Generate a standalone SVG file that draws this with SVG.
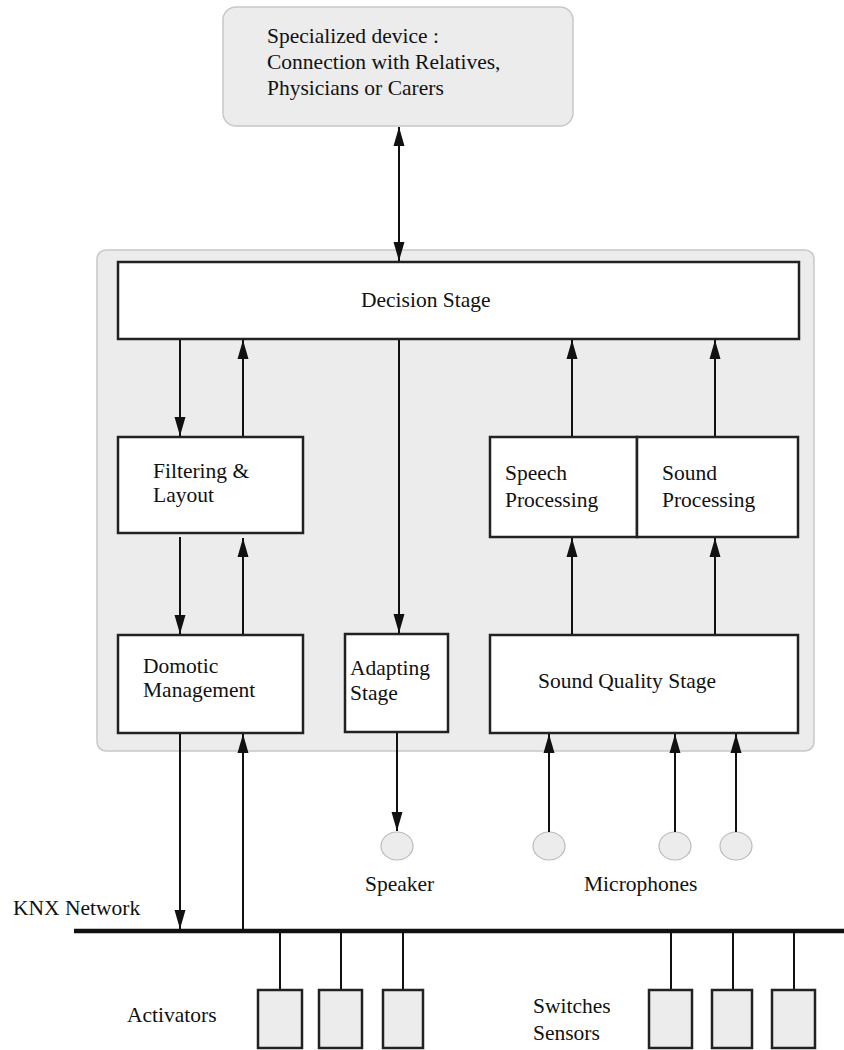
<svg xmlns="http://www.w3.org/2000/svg" width="844" height="1050" viewBox="0 0 844 1050">
<defs>
<marker id="ah" markerUnits="userSpaceOnUse" markerWidth="20" markerHeight="12" viewBox="0 0 20 12" refX="19" refY="6" orient="auto-start-reverse">
<path d="M0,0.5 L19,6 L0,11.5 Z" fill="#111"/>
</marker>
<style>
text{font-family:'Liberation Serif','Times New Roman','DejaVu Serif',serif;font-size:21.5px;fill:#111}
.box{fill:#fff;stroke:#222;stroke-width:2.5}
.dev{fill:#ececec;stroke:#222;stroke-width:2.5}
.grey{fill:#ececec;stroke:#c8c8c8;stroke-width:1.5}
.circ{fill:#ececec;stroke:#bbb;stroke-width:1.2}
.c{stroke:#111;stroke-width:2;fill:none}
.a{stroke:#111;stroke-width:2;fill:none;marker-end:url(#ah)}
.d{stroke:#111;stroke-width:2;fill:none;marker-start:url(#ah);marker-end:url(#ah)}
</style>
</defs>
<rect width="844" height="1050" fill="#fff"/>

<g font-family="Liberation Serif, Times New Roman, DejaVu Serif, serif">
<g id="specialized-device">
<rect class="grey" x="223" y="7" width="350" height="119" rx="13"/>
<text x="267" y="43">Specialized device :</text>
<text x="267" y="69">Connection with Relatives,</text>
<text x="267" y="95">Physicians or Carers</text>
</g>

<g id="system-container">
<rect class="grey" x="97" y="250" width="717" height="501" rx="9"/>
</g>

<g id="decision-stage">
<rect class="box" x="118" y="262" width="681" height="77"/>
<text x="361" y="307">Decision Stage</text>
</g>

<g id="filtering-layout">
<rect class="box" x="118" y="437" width="185" height="96"/>
<text x="153" y="478">Filtering &amp;</text>
<text x="153" y="502">Layout</text>
</g>

<g id="speech-processing">
<rect class="box" x="490" y="437" width="147" height="100"/>
<text x="505" y="480">Speech</text>
<text x="505" y="507">Processing</text>
</g>

<g id="sound-processing">
<rect class="box" x="637" y="437" width="161" height="100"/>
<text x="662" y="480">Sound</text>
<text x="662" y="507">Processing</text>
</g>

<g id="domotic-management">
<rect class="box" x="118" y="635" width="185" height="98"/>
<text x="143" y="673">Domotic</text>
<text x="143" y="697">Management</text>
</g>

<g id="adapting-stage">
<rect class="box" x="345" y="634" width="103" height="98"/>
<text x="350" y="675">Adapting</text>
<text x="350" y="700">Stage</text>
</g>

<g id="sound-quality-stage">
<rect class="box" x="490" y="635" width="308" height="98"/>
<text x="538" y="688">Sound Quality Stage</text>
</g>

<g id="speaker">
<ellipse class="circ" cx="397" cy="846" rx="16" ry="14"/>
<text x="365" y="891">Speaker</text>
</g>

<g id="microphones">
<ellipse class="circ" cx="549" cy="846" rx="16" ry="14"/>
<ellipse class="circ" cx="675" cy="846" rx="16" ry="14"/>
<ellipse class="circ" cx="736" cy="846" rx="16" ry="14"/>
<text x="584" y="891">Microphones</text>
</g>

<g id="knx-network">
<line x1="74" y1="931" x2="844" y2="931" stroke="#111" stroke-width="4.5"/>
<text x="13" y="915">KNX Network</text>
</g>

<g id="activators">
<line class="c" x1="280" y1="931" x2="280" y2="990"/>
<line class="c" x1="341" y1="931" x2="341" y2="990"/>
<line class="c" x1="403" y1="931" x2="403" y2="990"/>
<rect class="dev" x="258" y="990" width="44" height="58"/>
<rect class="dev" x="319" y="990" width="43" height="58"/>
<rect class="dev" x="383" y="990" width="40" height="58"/>
<text x="127" y="1022">Activators</text>
</g>

<g id="switches-sensors">
<line class="c" x1="671" y1="931" x2="671" y2="990"/>
<line class="c" x1="733" y1="931" x2="733" y2="990"/>
<line class="c" x1="794" y1="931" x2="794" y2="990"/>
<rect class="dev" x="649" y="990" width="43" height="58"/>
<rect class="dev" x="712" y="990" width="40" height="58"/>
<rect class="dev" x="772" y="990" width="43" height="58"/>
<text x="533" y="1013">Switches</text>
<text x="533" y="1040">Sensors</text>
</g>
</g>

<g id="connectors">
<line class="d" x1="399" y1="127" x2="399" y2="261"/>
<line class="a" x1="180" y1="340" x2="180" y2="436"/>
<line class="a" x1="243" y1="436" x2="243" y2="340"/>
<line class="a" x1="399" y1="340" x2="399" y2="633"/>
<line class="a" x1="572" y1="436" x2="572" y2="340"/>
<line class="a" x1="715" y1="436" x2="715" y2="340"/>
<line class="a" x1="180" y1="537" x2="180" y2="634"/>
<line class="a" x1="243" y1="634" x2="243" y2="538"/>
<line class="a" x1="572" y1="634" x2="572" y2="538"/>
<line class="a" x1="715" y1="634" x2="715" y2="538"/>
<line class="a" x1="180" y1="734" x2="180" y2="929"/>
<line class="a" x1="243" y1="929" x2="243" y2="734"/>
<line class="a" x1="397" y1="733" x2="397" y2="831"/>
<line class="a" x1="549" y1="832" x2="549" y2="734"/>
<line class="a" x1="675" y1="832" x2="675" y2="734"/>
<line class="a" x1="736" y1="832" x2="736" y2="734"/>
</g>
</svg>
